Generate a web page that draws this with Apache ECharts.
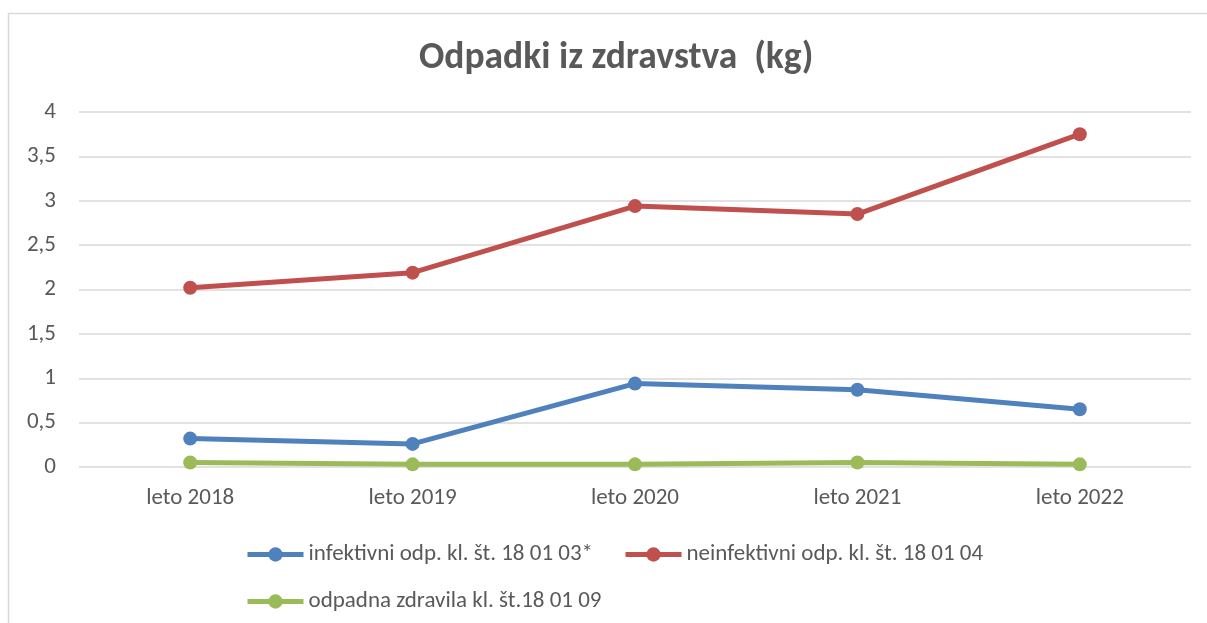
<!DOCTYPE html>
<html>
<head>
<meta charset="utf-8">
<script src="https://cdn.jsdelivr.net/npm/echarts@6/dist/echarts.min.js"></script>
<style>
  html, body { margin: 0; padding: 0; background: #fff; }
  #chart { width: 1207px; height: 623px; }
</style>
</head>
<body>
<div id="chart"></div>
<script>
const categories = ["leto 2018", "leto 2019", "leto 2020", "leto 2021", "leto 2022"];
const infektivni = [0.32, 0.26, 0.94, 0.87, 0.65];
const neinfektivni = [2.02, 2.19, 2.94, 2.85, 3.75];
const zdravila = [0.05, 0.03, 0.03, 0.05, 0.03];
const seriesNames = [
  "infektivni odp. kl. št. 18 01 03*",
  "neinfektivni odp. kl. št. 18 01 04",
  "odpadna zdravila kl. št.18 01 09"
];
const colors = ["#4f81bd", "#c0504d", "#9bbb59"];

const font = "Calibri, Carlito, Lato, sans-serif";
const textColor = "#595959";

const makeLine = (name, data, color) => ({
  name: name,
  type: "line",
  data: data,
  symbol: "circle",
  symbolSize: 14,
  color: color,
  lineStyle: { width: 5, color: color },
  itemStyle: { color: color },
  emphasis: { disabled: true },
});

const legendText = { fontSize: 23, color: textColor, fontFamily: font };

const chart = echarts.init(document.getElementById("chart"));
chart.setOption({
  animation: false,
  textStyle: { fontFamily: font },
  graphic: [
    {
      type: "rect",
      shape: { x: 8.5, y: 13.5, width: 1220, height: 640 },
      style: { fill: "none", stroke: "#d9d9d9", lineWidth: 1.5 },
      silent: true,
    },
  ],
  title: {
    text: "Odpadki iz zdravstva  (kg)",
    left: 414,
    top: 35,
    textStyle: { fontSize: 37.5, fontWeight: "bold", color: textColor, fontFamily: font },
  },
  legend: [
    {
      data: [seriesNames[0], seriesNames[1]],
      left: 240,
      top: 538,
      itemWidth: 56,
      itemHeight: 18,
      itemGap: 30,
      lineStyle: { width: 5 },
      textStyle: legendText,
    },
    {
      data: [seriesNames[2]],
      left: 240,
      top: 585,
      itemWidth: 56,
      itemHeight: 18,
      lineStyle: { width: 5 },
      textStyle: legendText,
    },
  ],
  grid: { left: 79, right: 16, top: 112, bottom: 156, containLabel: false },
  xAxis: {
    type: "category",
    data: categories,
    boundaryGap: true,
    axisLine: { show: false },
    axisTick: { show: false },
    axisLabel: { fontSize: 23, color: textColor, margin: 20, fontFamily: font },
  },
  yAxis: {
    type: "value",
    min: 0,
    max: 4,
    interval: 0.5,
    axisLine: { show: false },
    axisTick: { show: false },
    splitLine: { lineStyle: { color: "#d9d9d9", width: 1.5 } },
    axisLabel: {
      fontSize: 23,
      color: textColor,
      margin: 23,
      fontFamily: font,
      formatter: (v) => String(v).replace(".", ","),
    },
  },
  series: [
    makeLine(seriesNames[0], infektivni, colors[0]),
    makeLine(seriesNames[1], neinfektivni, colors[1]),
    makeLine(seriesNames[2], zdravila, colors[2]),
  ],
});
</script>
</body>
</html>
